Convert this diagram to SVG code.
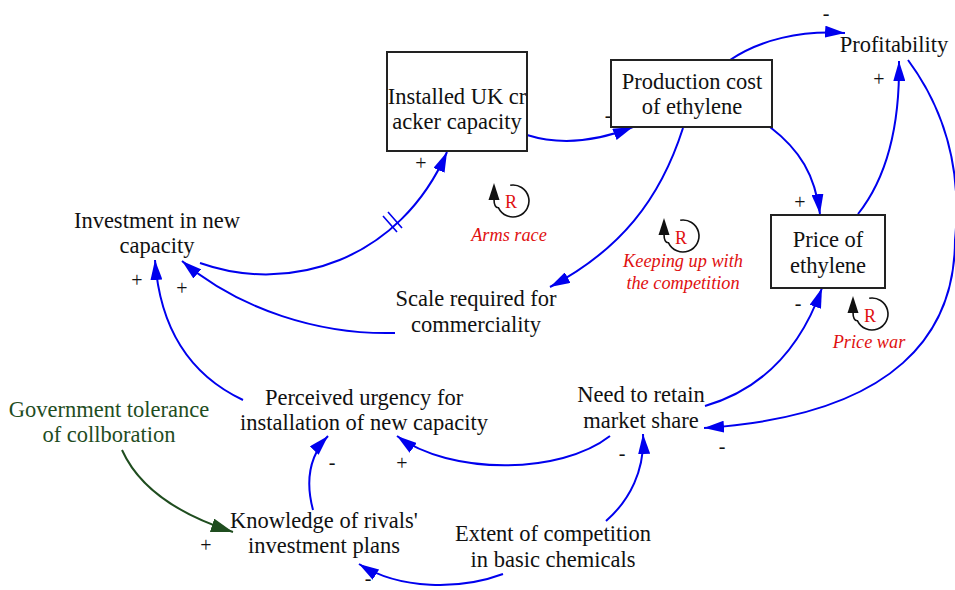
<svg xmlns="http://www.w3.org/2000/svg" width="955" height="590" viewBox="0 0 955 590">
  <style>
    text { font-family: "Liberation Serif", "Times New Roman", Tinos, "DejaVu Serif", serif; }
    .node { font-size: 22.5px; fill: #111; text-anchor: middle; }
    .green { fill: #1f4d1f; }
    .box { fill: #fff; stroke: #222; stroke-width: 2; }
    .link { fill: none; stroke: #0000ee; stroke-width: 2; }
    .glink { fill: none; stroke: #1f4d1f; stroke-width: 2; }
    .pol { font-size: 20px; fill: #111; text-anchor: middle; }
    .loop { fill: none; stroke: #111; stroke-width: 1.6; }
    .loopR { font-size: 18px; fill: #e01010; text-anchor: middle; }
    .loopname { font-size: 18.3px; font-style: italic; fill: #e01010; text-anchor: middle; }
  </style>
  <defs>
    <marker id="arrow" viewBox="0 0 20 12" refX="20" refY="6" markerWidth="20" markerHeight="12" markerUnits="userSpaceOnUse" orient="auto">
      <path d="M0,0 L20,6 L0,12 Z" fill="#0000ee"/>
    </marker>
    <marker id="garrow" viewBox="0 0 22 14" refX="22" refY="7" markerWidth="22" markerHeight="14" markerUnits="userSpaceOnUse" orient="auto">
      <path d="M0,0 L22,7 L0,14 Z" fill="#1f4d1f"/>
    </marker>
    <!-- reinforcing-loop glyph: origin at the arrow tip -->
    <g id="loopGlyph">
      <path class="loop" d="M16.2,2.2 A16,16 0 1,1 4.5,24.8 Q0,25 0,16"/>
      <path d="M0,0 L5.5,17 L-5.5,17 Z" fill="#111"/>
    </g>
  </defs>

  <!-- connectors -->
  <g id="connectors">
    <path class="link" marker-end="url(#arrow)" d="M527,135 Q575,150 633,127"/>
    <path class="link" marker-end="url(#arrow)" d="M200,263 C290,295 400,260 447,152"/>
    <!-- delay mark -->
    <path d="M383,216 L397,232 M388,212 L402,228" stroke="#0000ee" stroke-width="1.6" fill="none"/>
    <path class="link" marker-end="url(#arrow)" d="M683,128 C660,200 620,250 550,287"/>
    <path class="link" marker-end="url(#arrow)" d="M395,333 C320,335 240,310 182,261"/>
    <path class="link" marker-end="url(#arrow)" d="M243,400 C190,375 160,330 155,260"/>
    <path class="link" marker-end="url(#arrow)" d="M730,60 C760,40 800,30 845,33"/>
    <path class="link" marker-end="url(#arrow)" d="M770,127 C800,150 815,175 820,214"/>
    <path class="link" marker-end="url(#arrow)" d="M858,214 C885,180 900,130 899,61"/>
    <path class="link" marker-end="url(#arrow)" d="M908,60 C945,110 962,170 955,240 C955,330 900,415 704,428"/>
    <path class="link" marker-end="url(#arrow)" d="M705,406 C760,390 800,350 822,288"/>
    <path class="link" marker-end="url(#arrow)" d="M610,436 C560,475 450,475 397,436"/>
    <path class="link" marker-end="url(#arrow)" d="M606,521 C630,500 645,470 643,434"/>
    <path class="link" marker-end="url(#arrow)" d="M313,510 C305,480 310,455 328,436"/>
    <path class="link" marker-end="url(#arrow)" d="M503,574 C460,590 400,590 359,564"/>
    <path class="glink" marker-end="url(#garrow)" d="M122,450 C140,490 180,515 233,532"/>
  </g>

  <!-- polarity signs -->
  <g id="polarities">
    <text class="pol" x="421" y="170">+</text>
    <text class="pol" x="608" y="122">-</text>
    <text class="pol" x="826" y="20">-</text>
    <text class="pol" x="800" y="209">+</text>
    <text class="pol" x="879" y="86">+</text>
    <text class="pol" x="137" y="287">+</text>
    <text class="pol" x="182" y="295">+</text>
    <text class="pol" x="798" y="310">-</text>
    <text class="pol" x="722" y="453">-</text>
    <text class="pol" x="622" y="460">-</text>
    <text class="pol" x="402" y="470">+</text>
    <text class="pol" x="332" y="469">-</text>
    <text class="pol" x="206" y="552">+</text>
    <text class="pol" x="368" y="585">-</text>
  </g>

  <!-- stocks -->
  <g id="installed-capacity">
    <rect class="box" x="387" y="52" width="140" height="99"/>
    <text class="node" x="457" y="104">Installed UK cr</text>
    <text class="node" x="457" y="129">acker capacity</text>
  </g>
  <g id="production-cost">
    <rect class="box" x="611" y="60" width="161" height="67"/>
    <text class="node" x="692" y="89">Production cost</text>
    <text class="node" x="692" y="114">of ethylene</text>
  </g>
  <g id="price">
    <rect class="box" x="771" y="215" width="114" height="73"/>
    <text class="node" x="828" y="247">Price of</text>
    <text class="node" x="828" y="273">ethylene</text>
  </g>

  <!-- variables -->
  <g id="profitability">
    <text class="node" x="894" y="52">Profitability</text>
  </g>
  <g id="investment">
    <text class="node" x="157" y="228">Investment in new</text>
    <text class="node" x="157" y="253">capacity</text>
  </g>
  <g id="scale">
    <text class="node" x="476" y="306">Scale required for</text>
    <text class="node" x="476" y="332">commerciality</text>
  </g>
  <g id="urgency">
    <text class="node" x="364" y="405">Perceived urgency for</text>
    <text class="node" x="364" y="430">installation of new capacity</text>
  </g>
  <g id="market-share">
    <text class="node" x="641" y="402">Need to retain</text>
    <text class="node" x="641" y="428">market share</text>
  </g>
  <g id="government">
    <text class="node green" x="109" y="417">Government tolerance</text>
    <text class="node green" x="109" y="442">of collboration</text>
  </g>
  <g id="knowledge">
    <text class="node" x="324" y="528">Knowledge of rivals'</text>
    <text class="node" x="324" y="553">investment plans</text>
  </g>
  <g id="competition">
    <text class="node" x="553" y="541">Extent of competition</text>
    <text class="node" x="553" y="567">in basic chemicals</text>
  </g>

  <!-- loop markers -->
  <g id="loop-arms-race">
    <use href="#loopGlyph" transform="translate(494,183)"/>
    <text class="loopR" x="511" y="208">R</text>
    <text class="loopname" x="509" y="241">Arms race</text>
  </g>
  <g id="loop-keeping-up">
    <use href="#loopGlyph" transform="translate(664,218)"/>
    <text class="loopR" x="681" y="244">R</text>
    <text class="loopname" x="683" y="267">Keeping up with</text>
    <text class="loopname" x="683" y="289">the competition</text>
  </g>
  <g id="loop-price-war">
    <use href="#loopGlyph" transform="translate(853,296)"/>
    <text class="loopR" x="870" y="322">R</text>
    <text class="loopname" x="869" y="348">Price war</text>
  </g>
</svg>
